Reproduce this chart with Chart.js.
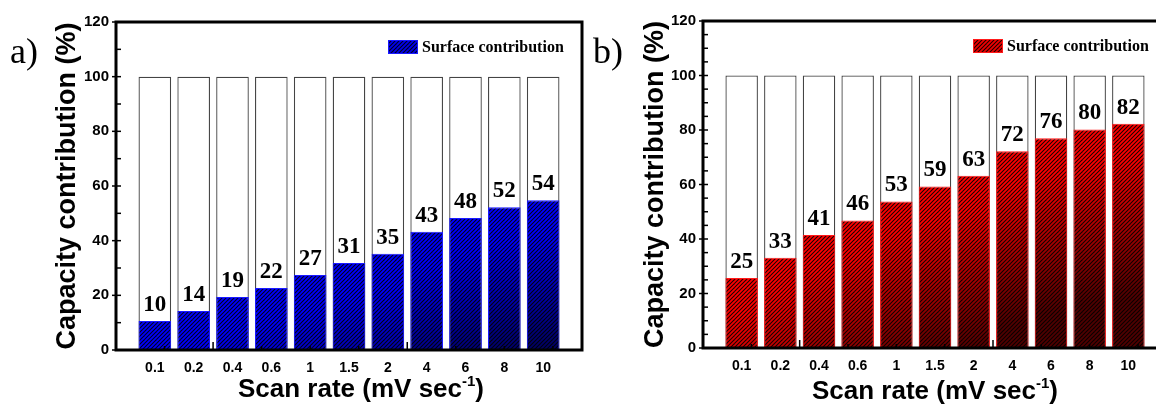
<!DOCTYPE html>
<html><head><meta charset="utf-8">
<script src="https://cdn.jsdelivr.net/npm/chart.js@4.4.0/dist/chart.umd.min.js"></script>
<style>
html,body{margin:0;padding:0;background:#fff;}
#wrap{position:relative;width:1156px;height:408px;overflow:hidden;background:#fff;}
#ca{position:absolute;left:0;top:0;}
#cb{position:absolute;left:590px;top:0;}
</style></head><body>
<div id="wrap"><canvas id="ca" width="600" height="408"></canvas><canvas id="cb" width="600" height="408"></canvas></div>
<script>
// ---- data ----
const scanRates = ['0.1','0.2','0.4','0.6','1','1.5','2','4','6','8','10'];
const surfaceA = [10.6,14.3,19.4,22.7,27.4,31.8,35.2,43.3,48.3,52.2,54.8];
const labelsA  = ['10','14','19','22','27','31','35','43','48','52','54'];
const surfaceB = [25.7,33.1,41.5,46.8,53.8,59.3,63.2,72.2,77.0,80.2,82.3];
const labelsB  = ['25','33','41','46','53','59','63','72','76','80','82'];
const totalValue = 100;
const yMin = 0, yMax = 120, yStep = 20;
const legendText = 'Surface contribution';
const yTitle = 'Capacity contribution (%)';
const xTitleMain = 'Scan rate (mV sec';
const xTitleSup = '-1';

function makePattern(ctx, topPx, bright, dark, H) {
  const c = document.createElement('canvas');
  c.width = 12; c.height = H;
  const g = c.getContext('2d');
  const grad = g.createLinearGradient(0, topPx + 35, 0, topPx + 175);
  grad.addColorStop(0, bright);
  grad.addColorStop(1, dark);
  g.fillStyle = grad; g.fillRect(0, 0, 12, H);
  g.strokeStyle = 'rgba(0,0,0,0.9)'; g.lineWidth = 1.2;
  for (let x0 = -H - 8; x0 < 24; x0 += 4) {
    g.beginPath(); g.moveTo(x0, H); g.lineTo(x0 + H, 0); g.stroke();
  }
  return ctx.createPattern(c, 'repeat');
}

function build(id, cfg) {
  const cats = [''].concat(scanRates, ['']);
  const surf = [null].concat(cfg.surface, [null]);
  const tot = [null].concat(scanRates.map(() => totalValue), [null]);

  const deco = {
    id: 'deco' + id,
    afterDatasetsDraw(chart) {
      const ctx = chart.ctx;
      const meta = chart.getDatasetMeta(0);
      ctx.save();
      ctx.fillStyle = '#000';
      ctx.font = 'bold 23px "Liberation Serif"';
      ctx.textAlign = 'center';
      ctx.textBaseline = 'alphabetic';
      meta.data.forEach((el, i) => {
        if (i === 0 || i > scanRates.length) return;
        ctx.fillText(cfg.labels[i - 1], el.x, el.y - 10);
      });
      ctx.restore();
    },
    afterDraw(chart) {
      const ctx = chart.ctx;
      const a = chart.chartArea;
      const ys = chart.scales.y, xs = chart.scales.x;
      ctx.save();
      // frame
      ctx.strokeStyle = '#000'; ctx.lineWidth = 3;
      ctx.strokeRect(a.left, a.top, a.right - a.left, a.bottom - a.top);
      // y ticks
      ctx.lineWidth = 1.5;
      for (let v = yMin; v <= yMax; v += cfg.minor) {
        const y = ys.getPixelForValue(v);
        ctx.beginPath();
        if (v % yStep === 0) { ctx.moveTo(a.left - 4, y); ctx.lineTo(a.left + 5, y); }
        else { ctx.moveTo(a.left, y); ctx.lineTo(a.left + 5, y); }
        ctx.stroke();
      }
      // x tick marks (original linear axis)
      const pitch = xs.getPixelForValue(1) - xs.getPixelForValue(0);
      const step = pitch * 1.25;
      for (let k = 1; a.left + k * step < a.right - 2; k++) {
        const x = a.left + k * step;
        const len = (k === 2 || k === 6) ? 8 : 4;
        ctx.beginPath(); ctx.moveTo(x, a.bottom); ctx.lineTo(x, a.bottom - len); ctx.stroke();
      }
      // legend
      const bx = a.right - 194, by = a.top + 18;
      ctx.fillStyle = makePattern(ctx, by - 40, cfg.bright, cfg.dark, 408);
      ctx.fillRect(bx, by, 30, 14);
      ctx.strokeStyle = cfg.border; ctx.lineWidth = 1;
      ctx.strokeRect(bx + 0.5, by + 0.5, 29, 13);
      ctx.fillStyle = '#000';
      ctx.font = 'bold 16px "Liberation Serif"';
      ctx.textAlign = 'left'; ctx.textBaseline = 'middle';
      ctx.fillText(legendText, bx + 34, by + 7.5);
      // x title with superscript
      ctx.font = 'bold 26px "Liberation Sans"';
      const w1 = ctx.measureText(xTitleMain).width;
      ctx.font = 'bold 15px "Liberation Sans"';
      const w2 = ctx.measureText(xTitleSup).width;
      ctx.font = 'bold 26px "Liberation Sans"';
      const w3 = ctx.measureText(')').width;
      const total = w1 + w2 + w3;
      const cx = (a.left + a.right) / 2 + cfg.xTitleShift;
      const base = a.bottom + cfg.xTitleDy;
      let x = cx - total / 2;
      ctx.textBaseline = 'alphabetic'; ctx.textAlign = 'left';
      ctx.fillText(xTitleMain, x, base); x += w1;
      ctx.font = 'bold 15px "Liberation Sans"';
      ctx.fillText(xTitleSup, x, base - 11); x += w2;
      ctx.font = 'bold 26px "Liberation Sans"';
      ctx.fillText(')', x, base);
      // panel letter
      ctx.font = '36px "Liberation Serif"';
      ctx.fillText(cfg.panel, cfg.panelX, 63);
      ctx.restore();
    }
  };

  return new Chart(document.getElementById(id), {
    type: 'bar',
    data: {
      labels: cats,
      datasets: [
        {
          label: legendText,
          data: surf,
          grouped: false,
          order: 1,
          barPercentage: 0.84,
          categoryPercentage: 1,
          borderColor: cfg.border,
          borderWidth: 1,
          borderSkipped: 'bottom',
          backgroundColor: (c) => {
            if (c.type !== 'data' || c.raw == null) return cfg.bright;
            const ys = c.chart.scales.y;
            if (!ys) return cfg.bright;
            return makePattern(c.chart.ctx, ys.getPixelForValue(c.raw), cfg.bright, cfg.dark, 408);
          }
        },
        {
          label: 'total',
          data: tot,
          grouped: false,
          order: 2,
          barPercentage: 0.84,
          categoryPercentage: 1,
          backgroundColor: '#ffffff',
          borderColor: '#444444',
          borderWidth: 1.3,
          borderSkipped: 'bottom'
        }
      ]
    },
    options: {
      responsive: false,
      animation: false,
      devicePixelRatio: 1,
      layout: { padding: { left: 0, right: cfg.padRight, top: cfg.padTop, bottom: 0 } },
      plugins: { legend: { display: false }, tooltip: { enabled: false } },
      scales: {
        x: {
          offset: false,
          grid: { display: false, drawTicks: false },
          border: { display: false },
          ticks: { autoSkip: false, maxRotation: 0, minRotation: 0, padding: 10, color: '#000',
                   font: { family: 'Liberation Sans', weight: 'bold', size: 14 } },
          afterFit: (s) => { s.height = cfg.xAxisH; }
        },
        y: {
          min: yMin, max: yMax,
          grid: { display: false, drawTicks: false },
          border: { display: false },
          ticks: { stepSize: yStep, padding: 7, color: '#000',
                   font: { family: 'Liberation Sans', weight: 'bold', size: 15 } },
          title: { display: true, text: yTitle, color: '#000',
                   font: { family: 'Liberation Sans', weight: 'bold', size: 27 },
                   padding: { top: cfg.yTitlePad, bottom: 0 } },
          afterFit: (s) => { s.width = cfg.yAxisW; }
        }
      }
    },
    plugins: [deco]
  });
}

build('ca', {
  surface: surfaceA, labels: labelsA,
  bright: 'rgb(0,0,255)', dark: 'rgb(0,0,60)', border: '#1a1aff',
  minor: 10, padRight: 18, padTop: 22, yAxisW: 116, xAxisH: 58,
  yTitlePad: 51, xTitleShift: 12, xTitleDy: 47, panel: 'a)', panelX: 10
});
build('cb', {
  surface: surfaceB, labels: labelsB,
  bright: 'rgb(255,0,0)', dark: 'rgb(80,0,0)', border: '#ff1a1a',
  minor: 5, padRight: 23, padTop: 21, yAxisW: 113, xAxisH: 60,
  yTitlePad: 49, xTitleShift: 0, xTitleDy: 51, panel: 'b)', panelX: 3
});
</script>
</body></html>
